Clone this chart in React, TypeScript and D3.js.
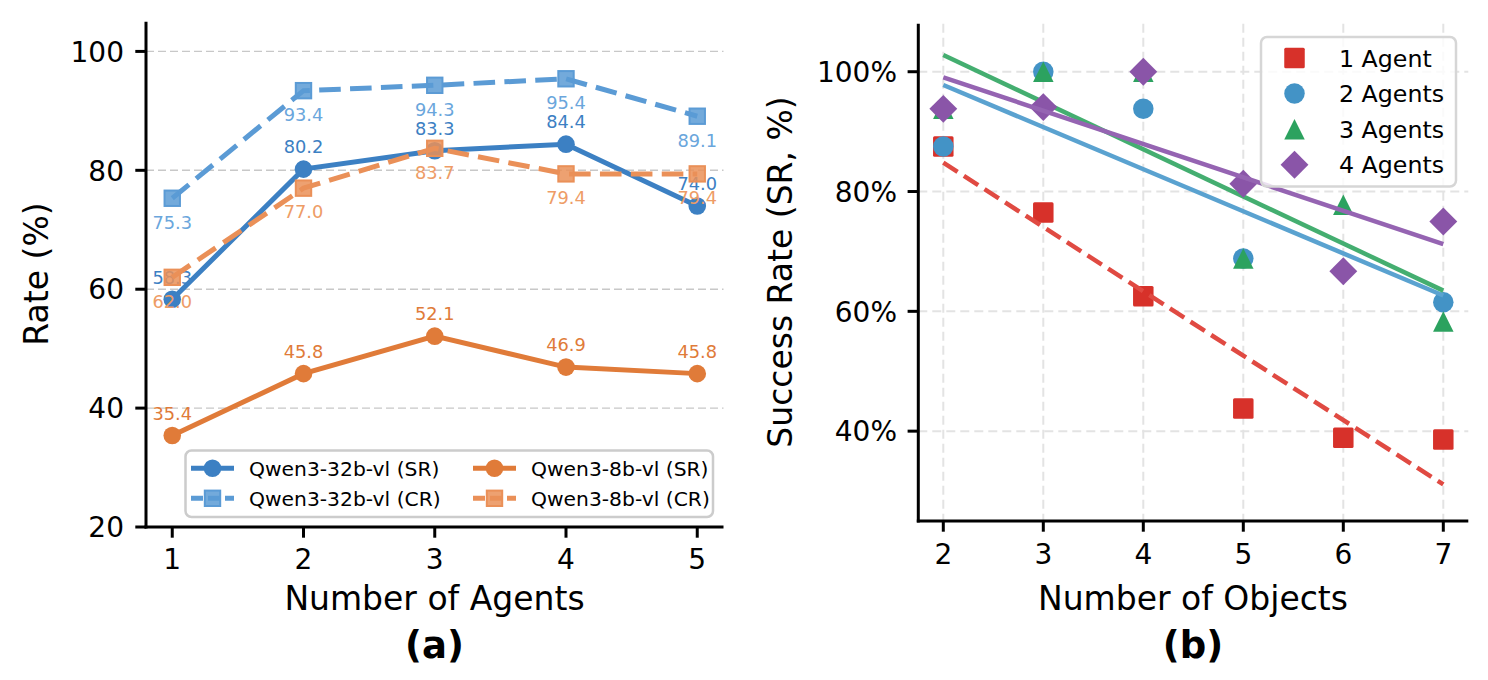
import React from "react";
import * as d3 from "d3";

// panel (a): rates per number of agents
const agents = [1, 2, 3, 4, 5];
const sr32 = [58.3, 80.2, 83.3, 84.4, 74.0];
const cr32 = [75.3, 93.4, 94.3, 95.4, 89.1];
const sr8 = [35.4, 45.8, 52.1, 46.9, 45.8];
const cr8 = [62.0, 77.0, 83.7, 79.4, 79.4];
const rateTicks = [20, 40, 60, 80, 100];

// panel (b): success rate per number of objects
const objects = [2, 3, 4, 5, 6, 7];
const oneAgent = [87.5, 76.5, 62.5, 43.8, 38.9, 38.6];
const twoAgents = [87.5, 100, 93.8, 68.8, null, 61.5];
const threeAgents = [93.8, 100, 100, 68.8, 77.8, 58.3];
const fourAgents = [93.8, 94.1, 100, 81.3, 66.7, 75.0];
const srTicks = [40, 60, 80, 100];

const FONT = "DejaVu Sans";

const xA = d3.scaleLinear().domain([0.8, 5.2]).range([146, 723.5]);
const yA = d3.scaleLinear().domain([20, 105]).range([527, 21.7]);
const xB = d3.scaleLinear().domain([1.75, 7.25]).range([918.3, 1468.3]);
const yB = d3.scaleLinear().domain([25, 108]).range([521, 23.8]);

type Series = {
  name: string;
  values: number[];
  color: string;
  labelColor: string;
  dashed: boolean;
  marker: "circle" | "square";
  above: boolean;
};

const leftSeries: Series[] = [
  { name: "Qwen3-32b-vl (SR)", values: sr32, color: "#3c80c3", labelColor: "#3c80c3", dashed: false, marker: "circle", above: true },
  { name: "Qwen3-32b-vl (CR)", values: cr32, color: "#5b9bd5", labelColor: "#6aa6dc", dashed: true, marker: "square", above: false },
  { name: "Qwen3-8b-vl (SR)", values: sr8, color: "#e07b39", labelColor: "#e07b39", dashed: false, marker: "circle", above: true },
  { name: "Qwen3-8b-vl (CR)", values: cr8, color: "#ea9058", labelColor: "#ee9c66", dashed: true, marker: "square", above: false },
];

type Group = {
  name: string;
  values: (number | null)[];
  color: string;
  lineColor: string;
  shape: "square" | "circle" | "triangle" | "diamond";
  dashed: boolean;
};

const rightGroups: Group[] = [
  { name: "1 Agent", values: oneAgent, color: "#d7312a", lineColor: "#e04a42", shape: "square", dashed: true },
  { name: "2 Agents", values: twoAgents, color: "#4393c6", lineColor: "#5aa2d0", shape: "circle", dashed: false },
  { name: "3 Agents", values: threeAgents, color: "#2ca25f", lineColor: "#44ae70", shape: "triangle", dashed: false },
  { name: "4 Agents", values: fourAgents, color: "#8a55a8", lineColor: "#9564b2", shape: "diamond", dashed: false },
];

// least-squares trend line over the points that exist
function fit(xs: number[], ys: (number | null)[]) {
  const pts = xs.map((x, i) => [x, ys[i]] as [number, number | null]).filter((p) => p[1] !== null) as [number, number][];
  const mx = d3.mean(pts, (p) => p[0]) as number;
  const my = d3.mean(pts, (p) => p[1]) as number;
  const sxy = d3.sum(pts, (p) => (p[0] - mx) * (p[1] - my));
  const sxx = d3.sum(pts, (p) => (p[0] - mx) ** 2);
  const slope = sxy / sxx;
  return (x: number) => my + slope * (x - mx);
}

function Marker({ shape, x, y, color, size }: { shape: string; x: number; y: number; color: string; size: number }) {
  const r = size / 2;
  if (shape === "circle") return <circle cx={x} cy={y} r={r} fill={color} />;
  if (shape === "square") return <rect x={x - r} y={y - r} width={size} height={size} rx={1.5} fill={color} />;
  if (shape === "triangle")
    return <path d={`M${x},${y - r}L${x - r},${y + r}L${x + r},${y + r}Z`} fill={color} />;
  const d = r * 1.36;
  return <path d={`M${x},${y - d}L${x + d},${y}L${x},${y + d}L${x - d},${y}Z`} fill={color} />;
}

function PanelA() {
  const line = d3
    .line<number>()
    .x((_, i) => xA(agents[i]))
    .y((d) => yA(d));
  return (
    <g>
      {rateTicks.slice(1).map((t) => (
        <line key={t} x1={146} x2={723.5} y1={yA(t)} y2={yA(t)} stroke="#c8c8c8" strokeWidth={1.4} strokeDasharray="8,4" />
      ))}
      {leftSeries.map((s) => (
        <g key={s.name}>
          <path
            d={line(s.values) || ""}
            fill="none"
            stroke={s.color}
            strokeWidth={5}
            strokeDasharray={s.dashed ? "21.6,9.3" : undefined}
          />
          {s.values.map((v, i) =>
            s.marker === "circle" ? (
              <circle key={i} cx={xA(agents[i])} cy={yA(v)} r={8.8} fill={s.color} />
            ) : (
              <rect
                key={i}
                x={xA(agents[i]) - 7.7}
                y={yA(v) - 7.7}
                width={15.4}
                height={15.4}
                fill={s.color}
                fillOpacity={0.85}
                stroke={s.color}
                strokeWidth={2}
              />
            )
          )}
          {s.values.map((v, i) => (
            <text
              key={"t" + i}
              x={xA(agents[i])}
              y={yA(v) + (s.above ? -22 : 24) + 6.3}
              textAnchor="middle"
              fontSize={17.8}
              fill={s.labelColor}
            >
              {v.toFixed(1)}
            </text>
          ))}
        </g>
      ))}

      {/* legend */}
      <rect x={185.5} y={450.5} width={527.5} height={66.5} rx={6} fill="#ffffff" fillOpacity={0.8} stroke="#cccccc" strokeWidth={2.5} />
      {leftSeries.map((s, i) => {
        const col = Math.floor(i / 2);
        const row = i % 2;
        const hx = col === 0 ? 191 : 473;
        const cy = row === 0 ? 468.3 : 498.3;
        return (
          <g key={"lg" + s.name}>
            <line x1={hx} x2={hx + 43} y1={cy} y2={cy} stroke={s.color} strokeWidth={5} strokeDasharray={s.dashed ? "12,5" : undefined} />
            {s.marker === "circle" ? (
              <circle cx={hx + 21.5} cy={cy} r={8.8} fill={s.color} />
            ) : (
              <rect x={hx + 21.5 - 7.7} y={cy - 7.7} width={15.4} height={15.4} fill={s.color} fillOpacity={0.85} stroke={s.color} strokeWidth={2} />
            )}
            <text x={hx + 58} y={cy + 7.2} fontSize={20.3} fill="#000">
              {s.name}
            </text>
          </g>
        );
      })}

      {/* axes */}
      <line x1={146} x2={146} y1={21.7} y2={528.5} stroke="#000" strokeWidth={3} />
      <line x1={144.5} x2={723.5} y1={527} y2={527} stroke="#000" strokeWidth={3} />
      {rateTicks.map((t) => (
        <g key={"yt" + t}>
          <line x1={135.3} x2={146} y1={yA(t)} y2={yA(t)} stroke="#000" strokeWidth={3} />
          <text x={124} y={yA(t) + 10.2} textAnchor="end" fontSize={28}>
            {t}
          </text>
        </g>
      ))}
      {agents.map((a) => (
        <g key={"xt" + a}>
          <line x1={xA(a)} x2={xA(a)} y1={527} y2={537.7} stroke="#000" strokeWidth={3} />
          <text x={xA(a)} y={569} textAnchor="middle" fontSize={28}>
            {a}
          </text>
        </g>
      ))}
      <text transform="translate(48,274) rotate(-90)" textAnchor="middle" fontSize={33}>
        Rate (%)
      </text>
      <text x={434.5} y={610} textAnchor="middle" fontSize={33}>
        Number of Agents
      </text>
      <text x={434.5} y={658} textAnchor="middle" fontSize={37} fontWeight="bold">
        (a)
      </text>
    </g>
  );
}

function PanelB() {
  return (
    <g>
      {objects.map((o) => (
        <line key={"gx" + o} x1={xB(o)} x2={xB(o)} y1={23.8} y2={521} stroke="#e3e3e3" strokeWidth={2} strokeDasharray="9,5" />
      ))}
      {srTicks.map((t) => (
        <line key={"gy" + t} x1={918.3} x2={1468.3} y1={yB(t)} y2={yB(t)} stroke="#e3e3e3" strokeWidth={2} strokeDasharray="9,5" />
      ))}
      {rightGroups.map((g) => {
        const f = fit(objects, g.values);
        const x0 = objects[0];
        const x1 = objects[objects.length - 1];
        return (
          <g key={g.name}>
            {g.values.map((v, i) =>
              v === null ? null : <Marker key={i} shape={g.shape} x={xB(objects[i])} y={yB(v)} color={g.color} size={20.5} />
            )}
            <line
              x1={xB(x0)}
              y1={yB(f(x0))}
              x2={xB(x1)}
              y2={yB(f(x1))}
              stroke={g.lineColor}
              strokeWidth={4.5}
              strokeDasharray={g.dashed ? "17,7.5" : undefined}
            />
          </g>
        );
      })}

      {/* legend */}
      <rect x={1261} y={37} width={195} height={149.5} rx={6} fill="#ffffff" fillOpacity={0.8} stroke="#d6d6d6" strokeWidth={2.5} />
      {rightGroups.map((g, i) => {
        const cy = 58 + i * 35.6;
        return (
          <g key={"lg" + g.name}>
            <Marker shape={g.shape} x={1294.5} y={cy} color={g.color} size={20.5} />
            <text x={1339} y={cy + 8.5} fontSize={23.7}>
              {g.name}
            </text>
          </g>
        );
      })}

      {/* axes */}
      <line x1={918.3} x2={918.3} y1={23.8} y2={522.5} stroke="#000" strokeWidth={3} />
      <line x1={916.8} x2={1468.3} y1={521} y2={521} stroke="#000" strokeWidth={3} />
      {srTicks.map((t) => (
        <g key={"yt" + t}>
          <line x1={907.6} x2={918.3} y1={yB(t)} y2={yB(t)} stroke="#000" strokeWidth={3} />
          <text x={897} y={yB(t) + 10.2} textAnchor="end" fontSize={28}>
            {t}%
          </text>
        </g>
      ))}
      {objects.map((o) => (
        <g key={"xt" + o}>
          <line x1={xB(o)} x2={xB(o)} y1={521} y2={531.7} stroke="#000" strokeWidth={3} />
          <text x={xB(o)} y={564} textAnchor="middle" fontSize={28}>
            {o}
          </text>
        </g>
      ))}
      <text transform="translate(792,272) rotate(-90)" textAnchor="middle" fontSize={33}>
        Success Rate (SR, %)
      </text>
      <text x={1193} y={610} textAnchor="middle" fontSize={33}>
        Number of Objects
      </text>
      <text x={1193} y={658} textAnchor="middle" fontSize={37} fontWeight="bold">
        (b)
      </text>
    </g>
  );
}

export default function App() {
  return (
    <svg
      width={1488}
      height={680}
      style={{ position: "absolute", left: 0, top: 0, background: "#fff" }}
      fontFamily={FONT}
    >
      <PanelA />
      <PanelB />
    </svg>
  );
}
